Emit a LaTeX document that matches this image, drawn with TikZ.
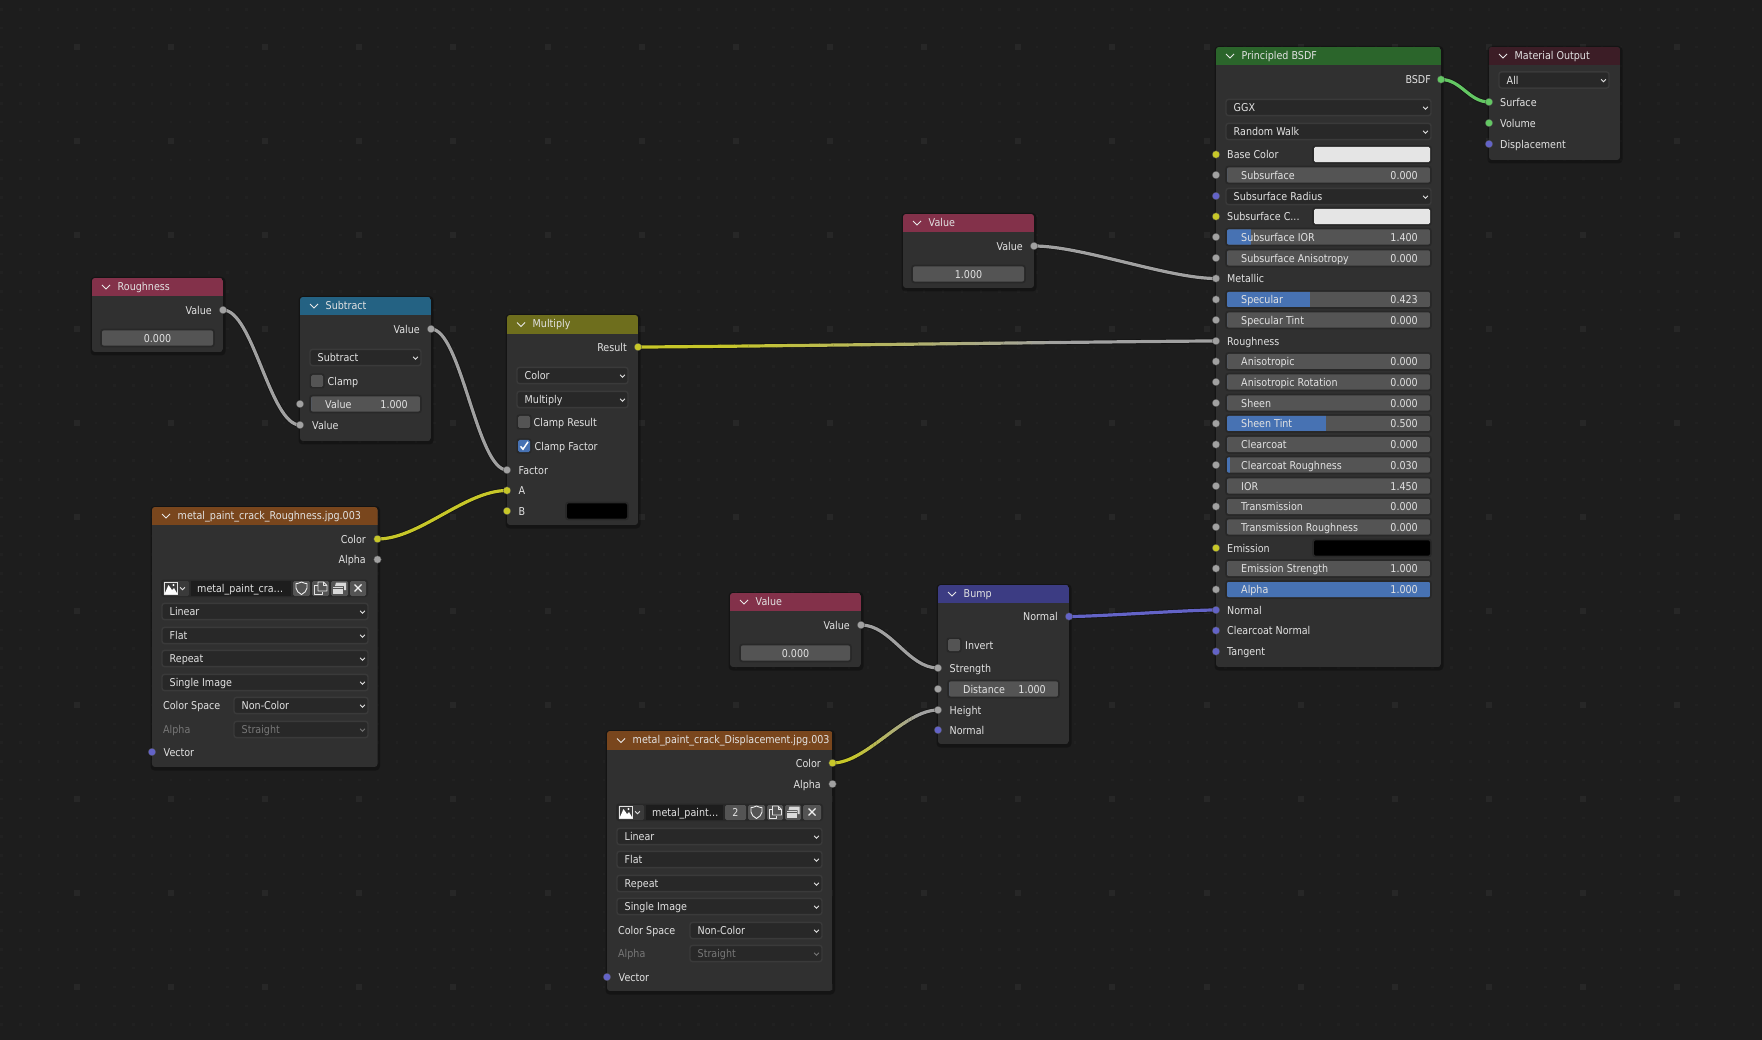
\documentclass[tikz,border=0pt]{standalone}
\usepackage{fontspec}
\setmainfont[FakeStretch=0.885]{DejaVu Sans}
\definecolor{bgc}{HTML}{1D1D1D}
\definecolor{bodyc}{HTML}{303030}
\definecolor{fieldc}{HTML}{545454}
\definecolor{dropc}{HTML}{282828}
\definecolor{framec}{HTML}{3A3A3A}
\definecolor{bluec}{HTML}{4772B3}
\definecolor{txtc}{HTML}{E2E2E2}
\definecolor{dimc}{HTML}{777777}
\definecolor{syel}{HTML}{C7C729}
\definecolor{sgry}{HTML}{A1A1A1}
\definecolor{spur}{HTML}{6363C7}
\definecolor{sgrn}{HTML}{63C763}
\definecolor{hgreen}{HTML}{2B652B}
\definecolor{houtput}{HTML}{3C1D26}
\definecolor{horange}{HTML}{79461D}
\definecolor{hblue}{HTML}{246283}
\definecolor{holive}{HTML}{6E6E1D}
\definecolor{hvalue}{HTML}{83314A}
\definecolor{hbump}{HTML}{3C3C83}
\definecolor{gridb}{HTML}{272727}
\definecolor{grids}{HTML}{212121}
\pgfdeclarelayer{panels}
\pgfdeclarelayer{links}
\pgfsetlayers{panels,links,main}
\newcounter{tn}
\tikzset{
  txtnode/.style={font=\fontsize{10.8}{12}\selectfont,text=txtc,inner sep=0pt},
  socketnode/.style={circle,minimum size=7.5pt,inner sep=0pt,draw=black!70,line width=.3pt},
  linkbase/.style={line width=3.2pt,line cap=round},
  linkedge/.style={line width=4.8pt,black,opacity=.35},
  iconline/.style={line width=.9pt,line join=round},
}
% text: x, y-centre, anchor side, text
\newcommand\txt[5][txtc]{\stepcounter{tn}\node[txtnode,text=#1,anchor=base #4] (t\thetn) at ({#2},{#3+4.2}) {#5};}
\newcommand\ctxt[3]{\stepcounter{tn}\node[txtnode,anchor=base] (t\thetn) at ({#1},{#2+4.2}) {#3};}
\newcommand\chev[4]{\draw[#4,line width=.9pt] ({#1-#3},{#2-#3/2}) -- ({#1},{#2+#3/2}) -- ({#1+#3},{#2-#3/2});}
% x1 y1 x2 y2 headerbottom colour title
\newcommand\panel[7]{%
  \begin{pgfonlayer}{panels}
    \fill[black,opacity=.28,rounded corners=4pt] (#1-1.5,#2-1) rectangle (#3+2.5,#4+3.5);
    \begin{scope}
      \clip[rounded corners=3pt] (#1,#2) rectangle (#3,#4);
      \fill[bodyc] (#1,#2) rectangle (#3,#4);
      \fill[#6] (#1,#2) rectangle (#3,#5);
    \end{scope}
  \end{pgfonlayer}
  \chev{#1+14}{(#2+#5)/2}{4}{txtc!75}
  \txt{#1+25.5}{(#2+#5)/2-.8}{west}{#7}%
}
\newcommand\sock[4]{\node[socketnode,fill=#4] (#1) at (#2,#3) {};}
% dropdown x1 x2 y text
\newcommand\drop[5][txtc]{%
  \fill[dropc,draw=framec,line width=1.4pt,rounded corners=2.5pt] (#2,#4-7.6) rectangle (#3,#4+8.6);
  \txt[#1]{#2+7.5}{#4+.6}{west}{#5}%
  \chev{#3-5.5}{#4+1}{2.4}{#1}%
}
% numeric field x1 x2 y label value frac
\newcommand\field[6]{%
  \fill[dropc,rounded corners=3pt] (#1-1.8,#3-9.3) rectangle (#2+1.8,#3+9.3);
  \begin{scope}
    \clip[rounded corners=2pt] (#1,#3-7.7) rectangle (#2,#3+7.7);
    \fill[fieldc] (#1,#3-8) rectangle (#2,#3+8);
    \fill[bluec] (#1,#3-8) rectangle ({#1+(#2-#1)*#6},#3+8);
  \end{scope}
  \txt{#1+14}{#3}{west}{#4}%
  \txt{#2-12}{#3}{east}{#5}%
}
\newcommand\cfield[4]{%
  \fill[dropc,rounded corners=3pt] (#1-1.8,#3-9.3) rectangle (#2+1.8,#3+9.3);
  \fill[fieldc,rounded corners=2pt] (#1,#3-7.7) rectangle (#2,#3+7.7);
  \ctxt{(#1+#2)/2}{#3}{#4}%
}
\newcommand\swatch[4]{%
  \fill[dropc,rounded corners=3pt] (#1-1.8,#3-9.3) rectangle (#2+1.8,#3+9.3);
  \fill[#4,rounded corners=1.5pt] (#1,#3-7.7) rectangle (#2,#3+7.7);
}
\newcommand\checkoff[2]{%
  \fill[dropc,rounded corners=2.5pt] (#1-1.5,#2-7.5) rectangle (#1+13.5,#2+7.5);
  \fill[fieldc,rounded corners=1.5pt] (#1,#2-6) rectangle (#1+12,#2+6);
}
\newcommand\checkon[2]{%
  \fill[dropc,rounded corners=2.5pt] (#1-1.5,#2-7.5) rectangle (#1+13.5,#2+7.5);
  \fill[bluec,rounded corners=1.5pt] (#1,#2-6) rectangle (#1+12,#2+6);
  \draw[white,line width=1.5pt] (#1+2.5,#2+.3) -- (#1+5,#2+3.2) -- (#1+10,#2-4.2);
}
% image row icons, centred at x,y
\newcommand\imgicon[2]{%
  \draw[txtc,line width=.8pt] (#1-6.5,#2-6) rectangle (#1+6.5,#2+6);
  \fill[white] (#1-6.5,#2+6) -- (#1-2.5,#2-3) -- (#1+1,#2+2) -- (#1+3,#2) -- (#1+6.5,#2+6) -- cycle;
  \fill[white] (#1+2.5,#2-3) circle (1.1pt);
  \chev{#1+11.5}{#2+.5}{2.4}{txtc}%
}
\newcommand\shieldicon[2]{\draw[txtc!50,iconline] (#1-5.5,#2-4.5) .. controls (#1-2,#2-4.5) and (#1-1,#2-6) .. (#1,#2-6) .. controls (#1+1,#2-6) and (#1+2,#2-4.5) .. (#1+5.5,#2-4.5) -- (#1+5.5,#2) .. controls (#1+5.5,#2+3) and (#1+2.5,#2+5) .. (#1,#2+6.5) .. controls (#1-2.5,#2+5) and (#1-5.5,#2+3) .. (#1-5.5,#2) -- cycle;}
\newcommand\copyicon[2]{%
  \draw[txtc!85,iconline] (#1-6,#2-3) rectangle (#1+1.5,#2+6);
  \fill[fieldc] (#1-2.5,#2-6.5) rectangle (#1+6.5,#2+3.5);
  \draw[txtc!85,iconline] (#1-2.5,#2+3) -- (#1-2.5,#2-6) -- (#1+3,#2-6) -- (#1+6.5,#2-2.5) -- (#1+6.5,#2+3) -- cycle;
  \draw[txtc!85,iconline] (#1+3,#2-6) -- (#1+3,#2-2.5) -- (#1+6.5,#2-2.5);
}
\newcommand\stackicon[2]{%
  \fill[white!85!black] (#1-6.5,#2-1) rectangle (#1+3.5,#2+6);
  \fill[fieldc] (#1-6.8,#2+.1) rectangle (#1+3.8,#2+1);
  \fill[white!85!black] (#1-3.5,#2-5.5) -- (#1+6.5,#2-5.5) -- (#1+6.5,#2+2) -- (#1+4.5,#2+2) -- (#1+4.5,#2-2) -- (#1-4.5,#2-2) -- cycle;
}
\newcommand\xicon[2]{\draw[txtc!50,line width=1.1pt] (#1-3.5,#2-3.5) -- (#1+3.5,#2+3.5) (#1-3.5,#2+3.5) -- (#1+3.5,#2-3.5);}
\newcommand\btn[3]{\fill[fieldc,rounded corners=1.5pt] (#1,#3-7.5) rectangle (#2,#3+7.5);}
% smooth link, one colour
\newcommand\wire[4]{%
  \begin{pgfonlayer}{links}
    \draw[linkedge] (#1.center) .. controls +(#4,0) and +(-#4,0) .. (#2.center);
    \draw[linkbase,#3] (#1.center) .. controls +(#4,0) and +(-#4,0) .. (#2.center);
  \end{pgfonlayer}
}
% link whose colour runs from c1 at x=xa to c2 at x=xb: from to c1 c2 handle xa xb ytop ybot
\newcommand\gradwire[9]{%
  \begin{pgfonlayer}{links}
    \draw[linkedge] (#1.center) .. controls +(#5,0) and +(-#5,0) .. (#2.center);
    \begin{scope}
      \clip (0,#8) rectangle (#6+.3,#9);
      \draw[linkbase,#3] (#1.center) .. controls +(#5,0) and +(-#5,0) .. (#2.center);
    \end{scope}
    \begin{scope}
      \clip (#7,#8) rectangle (1762,#9);
      \draw[linkbase,#4] (#1.center) .. controls +(#5,0) and +(-#5,0) .. (#2.center);
    \end{scope}
    \foreach \i in {0,...,23}{
      \pgfmathsetmacro\pct{100-(\i+.5)*100/24}
      \begin{scope}
        \clip ({#6+(#7-#6)*\i/24},#8) rectangle ({#6+(#7-#6)*(\i+1)/24+.4},#9);
        \draw[linkbase,#3!\pct!#4] (#1.center) .. controls +(#5,0) and +(-#5,0) .. (#2.center);
      \end{scope}
    }
  \end{pgfonlayer}
}
\begin{document}
\begin{tikzpicture}[x=1pt,y=-1pt]
\useasboundingbox (0,0) rectangle (1762,1040);
\begin{pgfonlayer}{panels}
\fill[bgc] (0,0) rectangle (1762,1040);
\foreach \i in {0,...,93}{
  \foreach \j in {0,...,55}{
    \fill[grids] ({1.6+18.83*\i-1.2},{9.4+18.8*\j-1.2}) rectangle +(2.4,2.4);
  }
}
\foreach \i in {0,...,17}{
  \foreach \j in {0,...,10}{
    \fill[gridb] ({76.9+94.14*\i-3},{47+94*\j-3}) rectangle +(6,6);
  }
}
\end{pgfonlayer}

% ---------- Roughness
\panel{92}{278}{223}{352}{296}{hvalue}{Roughness}
\txt{212}{310}{east}{Value}
\sock{rOut}{223}{310}{sgry}
\cfield{102}{213}{338}{0.000}

% ---------- Subtract
\panel{300}{297}{431}{441}{315}{hblue}{Subtract}
\txt{420}{329}{east}{Value}
\sock{sOut}{431}{329}{sgry}
\drop{310}{421}{357}{Subtract}
\checkoff{311}{381}
\txt{327.5}{381}{west}{Clamp}
\field{311}{420}{404}{Value}{1.000}{0}
\sock{sInA}{300}{404}{sgry}
\sock{sInB}{300}{425}{sgry}
\txt{312}{425}{west}{Value}

% ---------- Multiply
\panel{507}{315}{638}{525}{334}{holive}{Multiply}
\txt{627}{347}{east}{Result}
\sock{mOut}{638}{347}{syel}
\drop{517}{628}{375}{Color}
\drop{517}{628}{399}{Multiply}
\checkoff{518}{422}
\txt{533.5}{422}{west}{Clamp Result}
\checkon{518}{446}
\txt{534.5}{446}{west}{Clamp Factor}
\sock{mFac}{507}{470}{sgry}
\txt{518.5}{470}{west}{Factor}
\sock{mA}{507}{490.5}{syel}
\txt{518.5}{490.5}{west}{A}
\sock{mB}{507}{511}{syel}
\txt{518.5}{511}{west}{B}
\swatch{567}{627}{511}{black}

% ---------- Image: Roughness
\panel{152}{507}{377.5}{767}{525}{horange}{metal\_paint\_crack\_Roughness.jpg.003}
\txt{366}{539}{east}{Color}
\sock{iaColor}{377.5}{539}{syel}
\txt{366}{559.5}{east}{Alpha}
\sock{iaAlpha}{377.5}{559.5}{sgry}
\fill[dropc,rounded corners=3pt] (161,579.5) rectangle (368,597);
\fill[framec,rounded corners=1.5pt] (163,581) rectangle (189,596);
\imgicon{171}{588}
\fill[bgc] (191,581) rectangle (291,596);
\txt{197}{588}{west}{metal\_paint\_cra…}
\btn{293}{310}{588.5}\shieldicon{301.5}{588}
\btn{312}{329}{588.5}\copyicon{320.5}{588}
\btn{331}{348}{588.5}\stackicon{339.5}{588}
\btn{350}{366}{588.5}\xicon{358}{588}
\drop{162}{368}{611}{Linear}
\drop{162}{368}{635}{Flat}
\drop{162}{368}{658}{Repeat}
\drop{162}{368}{682}{Single Image}
\txt{163}{705}{west}{Color Space}
\drop{234}{368}{705}{Non-Color}
\txt[dimc]{163}{729}{west}{Alpha}
\drop[dimc]{234}{368}{729}{Straight}
\sock{iaVec}{152}{752}{spur}
\txt{163.5}{752}{west}{Vector}

% ---------- Image: Displacement
\panel{607}{731}{832.5}{991}{750}{horange}{metal\_paint\_crack\_Displacement.jpg.003}
\txt{821}{763}{east}{Color}
\sock{ibColor}{832.5}{763}{syel}
\txt{821}{784}{east}{Alpha}
\sock{ibAlpha}{832.5}{784}{sgry}
\fill[dropc,rounded corners=3pt] (616,803.5) rectangle (823,821);
\fill[framec,rounded corners=1.5pt] (618,805) rectangle (644,820);
\imgicon{626}{812}
\fill[bgc] (646,805) rectangle (723,820);
\txt{652}{812}{west}{metal\_paint…}
\btn{725}{746}{812.5}\ctxt{735.5}{812}{2}
\btn{748}{765}{812.5}\shieldicon{756.5}{812}
\btn{767}{783}{812.5}\copyicon{775}{812}
\btn{785}{801}{812.5}\stackicon{793}{812}
\btn{803}{821}{812.5}\xicon{812}{812}
\drop{617}{822}{836}{Linear}
\drop{617}{822}{859}{Flat}
\drop{617}{822}{883}{Repeat}
\drop{617}{822}{906}{Single Image}
\txt{618}{930}{west}{Color Space}
\drop{690}{822}{930}{Non-Color}
\txt[dimc]{618}{953}{west}{Alpha}
\drop[dimc]{690}{822}{953}{Straight}
\sock{ibVec}{607}{977}{spur}
\txt{618.5}{977}{west}{Vector}

% ---------- Value (top)
\panel{903}{214}{1034}{288}{232}{hvalue}{Value}
\txt{1023}{246}{east}{Value}
\sock{vtOut}{1034}{246}{sgry}
\cfield{913}{1024}{274}{1.000}

% ---------- Value (lower)
\panel{730}{593}{861}{667}{611}{hvalue}{Value}
\txt{850}{625}{east}{Value}
\sock{vbOut}{861}{625}{sgry}
\cfield{741}{850}{653}{0.000}

% ---------- Bump
\panel{938}{585}{1069}{744}{603}{hbump}{Bump}
\txt{1058}{616.5}{east}{Normal}
\sock{bOut}{1069}{616.5}{spur}
\checkoff{948}{645}
\txt{965}{645}{west}{Invert}
\sock{bStr}{938}{668}{sgry}
\txt{949.5}{668}{west}{Strength}
\field{949}{1058}{689}{Distance}{1.000}{0}
\sock{bDist}{938}{689}{sgry}
\sock{bHei}{938}{710}{sgry}
\txt{949.5}{710}{west}{Height}
\sock{bNor}{938}{730}{spur}
\txt{949.5}{730}{west}{Normal}

% ---------- Principled BSDF
\panel{1216}{47}{1441}{667}{65}{hgreen}{Principled BSDF}
\txt{1431}{79.5}{east}{BSDF}
\sock{pOut}{1441}{79.5}{sgrn}
\drop{1226}{1431}{107}{GGX}
\drop{1226}{1431}{131}{Random Walk}
\sock{p01}{1216}{154.5}{syel}\txt{1227}{154.5}{west}{Base Color}
\swatch{1314}{1430}{154.5}{white!90!black}
\sock{p02}{1216}{175}{sgry}\field{1227}{1430}{175}{Subsurface}{0.000}{0}
\sock{p03}{1216}{196}{spur}\drop{1226}{1431}{196}{Subsurface Radius}
\sock{p04}{1216}{216.5}{syel}\txt{1227}{216.5}{west}{Subsurface C...}
\swatch{1314}{1430}{216.5}{white!90!black}
\sock{p05}{1216}{237}{sgry}\field{1227}{1430}{237}{Subsurface IOR}{1.400}{.118}
\sock{p06}{1216}{258}{sgry}\field{1227}{1430}{258}{Subsurface Anisotropy}{0.000}{0}
\sock{pMetal}{1216}{278.5}{sgry}\txt{1227}{278.5}{west}{Metallic}
\sock{p08}{1216}{299.5}{sgry}\field{1227}{1430}{299.5}{Specular}{0.423}{.409}
\sock{p09}{1216}{320}{sgry}\field{1227}{1430}{320}{Specular Tint}{0.000}{0}
\sock{pRough}{1216}{341}{sgry}\txt{1227}{341}{west}{Roughness}
\sock{p11}{1216}{361.5}{sgry}\field{1227}{1430}{361.5}{Anisotropic}{0.000}{0}
\sock{p12}{1216}{382}{sgry}\field{1227}{1430}{382}{Anisotropic Rotation}{0.000}{0}
\sock{p13}{1216}{403}{sgry}\field{1227}{1430}{403}{Sheen}{0.000}{0}
\sock{p14}{1216}{423.5}{sgry}\field{1227}{1430}{423.5}{Sheen Tint}{0.500}{.488}
\sock{p15}{1216}{444.5}{sgry}\field{1227}{1430}{444.5}{Clearcoat}{0.000}{0}
\sock{p16}{1216}{465}{sgry}\field{1227}{1430}{465}{Clearcoat Roughness}{0.030}{.015}
\sock{p17}{1216}{486}{sgry}\field{1227}{1430}{486}{IOR}{1.450}{0}
\sock{p18}{1216}{506.5}{sgry}\field{1227}{1430}{506.5}{Transmission}{0.000}{0}
\sock{p19}{1216}{527}{sgry}\field{1227}{1430}{527}{Transmission Roughness}{0.000}{0}
\sock{p20}{1216}{548}{syel}\txt{1227}{548}{west}{Emission}
\swatch{1314}{1430}{548}{black}
\sock{p21}{1216}{568.5}{sgry}\field{1227}{1430}{568.5}{Emission Strength}{1.000}{0}
\sock{p22}{1216}{589.5}{sgry}\field{1227}{1430}{589.5}{Alpha}{1.000}{1}
\sock{pNorm}{1216}{610}{spur}\txt{1227}{610}{west}{Normal}
\sock{p24}{1216}{630.5}{spur}\txt{1227}{630.5}{west}{Clearcoat Normal}
\sock{p25}{1216}{651.5}{spur}\txt{1227}{651.5}{west}{Tangent}

% ---------- Material Output
\panel{1489}{47}{1620}{160}{65}{houtput}{Material Output}
\drop{1499}{1609}{79.5}{All}
\sock{oSurf}{1489}{102}{sgrn}\txt{1500}{102}{west}{Surface}
\sock{oVol}{1489}{123}{sgrn}\txt{1500}{123}{west}{Volume}
\sock{oDisp}{1489}{144}{spur}\txt{1500}{144}{west}{Displacement}

% ---------- Links
\wire{rOut}{sInB}{sgry}{30}
\wire{sOut}{mFac}{sgry}{30}
\wire{iaColor}{mA}{syel}{42}
\wire{vtOut}{pMetal}{sgry}{48}
\wire{vbOut}{bStr}{sgry}{30}
\wire{bOut}{pNorm}{spur}{30}
\wire{pOut}{oSurf}{sgrn}{20}
\gradwire{mOut}{pRough}{syel}{sgry}{60}{720}{1060}{330}{360}
\gradwire{ibColor}{bHei}{syel}{sgry}{34}{850}{920}{700}{775}
\end{tikzpicture}
\end{document}
